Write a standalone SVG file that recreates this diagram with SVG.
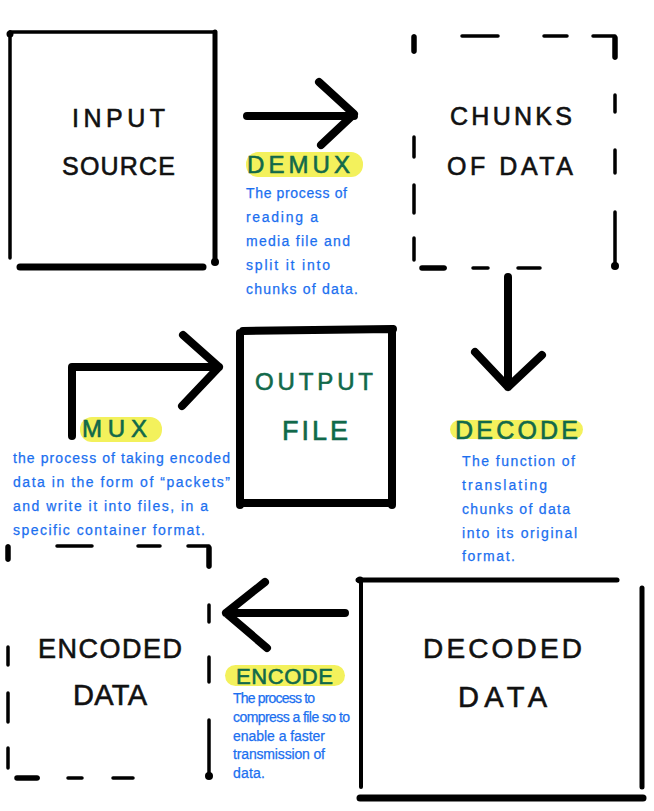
<svg xmlns="http://www.w3.org/2000/svg" width="654" height="811" viewBox="0 0 654 811">
<style>
.bx{fill:none;stroke:#000;stroke-linecap:round;stroke-linejoin:round}
.ar{fill:none;stroke:#000;stroke-width:8;stroke-linecap:round;stroke-linejoin:round}
.t{font-family:"Liberation Sans",Arial,sans-serif;fill:#111;stroke:#111;stroke-width:0.6}
.g{font-family:"Liberation Sans",Arial,sans-serif;fill:#11694a;stroke:#11694a;stroke-width:0.6}
.d{font-family:"Liberation Sans",Arial,sans-serif;fill:#1b6ff0;stroke:#1b6ff0;stroke-width:0.25;font-size:14px}
.hl{fill:#f3f15c}
</style>
<rect width="654" height="811" fill="#fff"/>

<g id="node-input">
<path class="bx" d="M10 32H215" stroke-width="3.5"/>
<path class="bx" d="M10 32V258" stroke-width="3.5"/>
<circle cx="10" cy="34" r="3.5"/>
<path class="bx" d="M215 32V262" stroke-width="5"/>
<circle cx="215" cy="262" r="4"/>
<path class="bx" d="M20 267H203" stroke-width="7"/>
<text class="t" x="72" y="127" font-size="25" textLength="93" lengthAdjust="spacing">INPUT</text>
<text class="t" x="62" y="175" font-size="25" textLength="113" lengthAdjust="spacing">SOURCE</text>
</g>

<g id="node-chunks">
<path class="bx" stroke-width="3.5" d="M414 36V52M414 137V157M414 185V213M414 238V260M462 36H498M544 36H567M593 36H615M615 36V58M615 95V112M615 150V173M615 212V266M422 268H445M473 268H488M518 268H540"/>
<path class="bx" stroke-width="5.5" d="M414 37V51M615 38V57M422 268H444"/>
<circle cx="615" cy="266" r="4"/>
<text class="t" x="450" y="125" font-size="25" textLength="122" lengthAdjust="spacing">CHUNKS</text>
<text class="t" x="447" y="175" font-size="25" textLength="126" lengthAdjust="spacing">OF DATA</text>
</g>

<g id="node-output">
<path class="bx" stroke-width="8" d="M243 331L393 329M240 333V505M392 329V505M240 503H392"/>
<text class="g" x="255" y="390" font-size="24" textLength="118" lengthAdjust="spacing">OUTPUT</text>
<text class="g" x="282" y="440" font-size="27" textLength="66" lengthAdjust="spacing">FILE</text>
</g>

<g id="node-encoded">
<path class="bx" stroke-width="3.5" d="M8 546V560M8 647V665M8 693V722M8 748V768M57 546H92M138 546H160M188 546H209M209 546V567M209 605V622M209 657V682M209 720V776M17 778H38M68 778H82M113 778H133"/>
<path class="bx" stroke-width="5.5" d="M8 547V559M209 548V566M17 778H37"/>
<circle cx="209" cy="776" r="4"/>
<text class="t" x="38" y="658" font-size="27" textLength="144" lengthAdjust="spacing">ENCODED</text>
<text class="t" x="73" y="705" font-size="29" textLength="74" lengthAdjust="spacing">DATA</text>
</g>

<g id="node-decoded">
<path class="bx" stroke-width="5" d="M358 580H617"/>
<circle cx="360" cy="580" r="3.5"/>
<path class="bx" stroke-width="4" d="M361 580V787"/>
<path class="bx" stroke-width="5" d="M642 588V787"/>
<path class="bx" stroke-width="7" d="M360 798H643"/>
<text class="t" x="423" y="658" font-size="28" textLength="159" lengthAdjust="spacing">DECODED</text>
<text class="t" x="458" y="707" font-size="29" textLength="89" lengthAdjust="spacing">DATA</text>
</g>

<g id="connectors">
<g id="edge-demux">
<path class="ar" d="M247 116H354M319 82L354 114L321 145"/>
<rect class="hl" x="246" y="152" width="117" height="25" rx="12"/>
<text class="g" x="247" y="173" font-size="24" textLength="103" lengthAdjust="spacing">DEMUX</text>
<text class="d" x="246" y="198" textLength="101" lengthAdjust="spacing">The process of</text>
<text class="d" x="246" y="222" textLength="72" lengthAdjust="spacing">reading a</text>
<text class="d" x="246" y="246" textLength="104" lengthAdjust="spacing">media file and</text>
<text class="d" x="246" y="270" textLength="84" lengthAdjust="spacing">split it into</text>
<text class="d" x="246" y="294" textLength="112" lengthAdjust="spacing">chunks of data.</text>
</g>
<g id="edge-decode">
<path class="ar" d="M508 277L508 387M475 352L508 387L542 355"/>
<rect class="hl" x="450" y="420" width="133" height="19" rx="9.5"/>
<text class="g" x="455" y="439" font-size="25" textLength="123" lengthAdjust="spacing">DECODE</text>
<text class="d" x="462" y="466" textLength="113" lengthAdjust="spacing">The function of</text>
<text class="d" x="462" y="490" textLength="85" lengthAdjust="spacing">translating</text>
<text class="d" x="462" y="514" textLength="108" lengthAdjust="spacing">chunks of data</text>
<text class="d" x="462" y="538" textLength="115" lengthAdjust="spacing">into its original</text>
<text class="d" x="462" y="561" textLength="53" lengthAdjust="spacing">format.</text>
</g>
<g id="edge-encode">
<path class="ar" d="M345 613H226M265 582L226 613L267 648"/>
<rect class="hl" x="225" y="665" width="120" height="21" rx="10.5"/>
<text class="g" x="236" y="684" font-size="22" textLength="97" lengthAdjust="spacing">ENCODE</text>
<text class="d" x="233" y="703" font-size="11" textLength="82" lengthAdjust="spacing">The process to</text>
<text class="d" x="233" y="722" font-size="11" textLength="117" lengthAdjust="spacing">compress a file so to</text>
<text class="d" x="233" y="741" font-size="11" textLength="92" lengthAdjust="spacing">enable a faster</text>
<text class="d" x="233" y="759" font-size="11" textLength="92" lengthAdjust="spacing">transmission of</text>
<text class="d" x="233" y="778" font-size="11" textLength="32" lengthAdjust="spacing">data.</text>
</g>
<g id="edge-mux">
<path class="ar" d="M72 436V367H219M183 335L219 367L182 406"/>
<rect class="hl" x="80" y="417" width="82" height="25" rx="12"/>
<text class="g" x="82" y="437" font-size="24" textLength="65" lengthAdjust="spacing">MUX</text>
<text class="d" x="13" y="463" textLength="217" lengthAdjust="spacing">the process of taking encoded</text>
<text class="d" x="13" y="487" textLength="217" lengthAdjust="spacing">data in the form of “packets”</text>
<text class="d" x="13" y="511" textLength="195" lengthAdjust="spacing">and write it into files, in a</text>
<text class="d" x="13" y="535" textLength="192" lengthAdjust="spacing">specific container format.</text>
</g>
</g>
</svg>
